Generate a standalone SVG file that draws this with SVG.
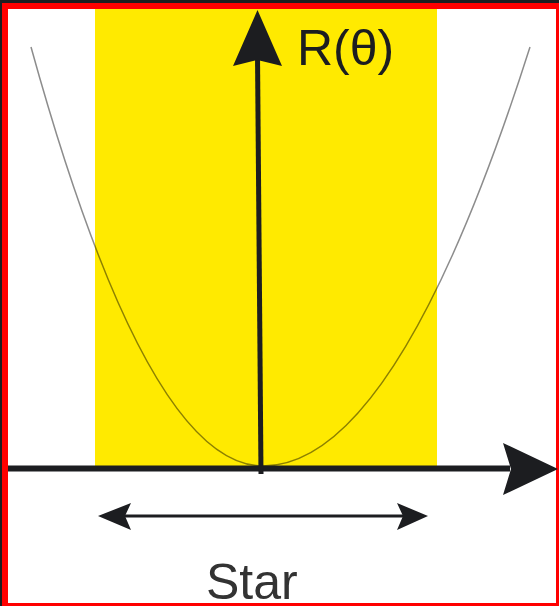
<svg xmlns="http://www.w3.org/2000/svg" width="559" height="606" viewBox="0 0 559 606">
<style>
.lbl{font-family:"Liberation Sans",Arial,sans-serif;font-size:50px}
.ink{fill:#1c1d20}
</style>
<g id="frame">
<rect x="0" y="0" width="559" height="606" fill="#1c1d20"/>
<rect x="2" y="3" width="557" height="603" fill="#ff0000"/>
<rect x="8" y="9" width="548" height="594" fill="#ffffff"/>
</g>
<g id="band">
<rect x="95" y="9" width="342" height="457" fill="#ffea00"/>
</g>
<g id="curve">
<path d="M31,47 Q147,466 263,466 Q396.5,466 530,47" fill="none" stroke="#000" stroke-opacity="0.45" stroke-width="1.5"/>
</g>
<g id="connectors">
<line x1="8" y1="468.5" x2="510" y2="468.5" stroke="#1c1d20" stroke-width="6"/>
<polygon class="ink" points="503,443 558,469 503,495 511,469"/>
<line x1="261" y1="474" x2="257.5" y2="55" stroke="#1c1d20" stroke-width="5"/>
<polygon class="ink" points="233,66 257.5,10 282,66 257.5,60"/>
<line x1="120" y1="516" x2="408" y2="516" stroke="#1c1d20" stroke-width="3"/>
<polygon class="ink" points="98,516 131,503 125,516 131,530"/>
<polygon class="ink" points="428,516 397,503 403,516 397,530"/>
</g>
<g id="label-r">
<text class="lbl ink" x="297" y="65">R(θ)</text>
</g>
<g id="label-star">
<text class="lbl" x="206" y="599" fill="#333">Star</text>
</g>
</svg>
